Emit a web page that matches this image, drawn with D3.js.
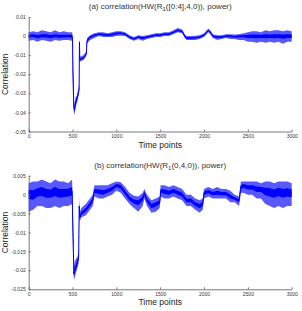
<!DOCTYPE html>
<html lang="en">
<head>
<meta charset="utf-8">
<title>Correlation vs time points</title>
<script src="https://d3js.org/d3.v7.min.js"></script>
<style>
  body { margin: 0; background: #fff; }
  svg { display: block; font-family: "Liberation Sans", Arial, sans-serif; }
</style>
</head>
<body>
<script>
// ---- data (correlation in units of 1e-3) ----
const tA   = [0,50,100,150,200,250,300,350,400,450,495,500,505,515,522,535,550,565,575,579,583,600,625,650,658,665,700,750,800,850,900,950,1000,1050,1100,1150,1200,1250,1300,1350,1400,1450,1500,1550,1600,1650,1700,1750,1780,1800,1850,1900,1950,2000,2050,2080,2100,2150,2200,2250,2300,2350,2400,2450,2500,2550,2600,2650,2700,2750,2800,2850,2900,2950,3000];
const midA = [0,0.2,-0.2,0,0.2,-0.2,0,0,-0.2,0,0,-2,-20,-37,-39,-35,-33,-30,-28,-3,-12.5,-12,-11.5,-10,-9,-2.5,-0.5,0.5,1,0.8,0.5,0.8,1.5,1.5,1,-0.5,-1.5,-0.5,-1,-0.5,0,0.5,0.5,1,1,2,3,2.5,0,-1,-1.2,-0.8,-0.5,0.5,3,1.5,0,-0.5,-0.5,0,0,-0.3,0,0,0,0,0,0,0,0,0,0,0,0,0];
const loA  = [-2.5,-2,-3,-2,-2.5,-3,-2,-2.5,-2,-2,-2.5,-6,-32,-40,-41.5,-37,-35,-32,-30,-5,-13.5,-13,-12.5,-11,-10,-4,-2,-1,0,-0.5,-0.5,-0.5,0,0.2,0,-1.5,-2.5,-1.5,-2.5,-1.5,-1,-0.5,-0.5,0,0,1,2,1.5,-1,-2,-2,-2,-1.5,-0.5,2,0.5,-1,-2,-1.5,-1,-1.5,-1.5,-2,-2,-3,-3,-3.5,-3,-3.5,-3,-3.5,-3,-4,-3,-3];
const hiA  = [2,2.5,2,3,2.5,2,3,2,2.5,2,2,1,-10,-33,-36,-32,-31,-28,-25,-1.5,-11,-10.5,-10,-8.5,-7,-1,0.5,1.5,2,2,1.5,2,2.5,2.5,2,0.5,-0.5,0.5,0,0.5,1,1.5,1.5,2,2,3,4.2,3.5,1,0,0,0.2,0.5,1.5,4,2.5,1,0.5,0.5,1,1,0.8,1,1.5,2,2.5,2.5,2,3,2.5,3,3,2.5,3,2.5];

const tB   = [0,50,100,150,200,250,300,350,400,450,495,505,515,525,540,555,570,576,583,600,650,700,730,750,800,850,900,950,1000,1050,1100,1150,1200,1250,1300,1320,1350,1400,1450,1495,1505,1550,1600,1650,1700,1750,1800,1850,1900,1950,1985,2000,2050,2100,2150,2200,2250,2300,2350,2400,2420,2450,2500,2550,2600,2650,2700,2750,2800,2850,2900,2950,3000];
const midB = [0.5,0,0.8,1,0.5,0.5,1,0.5,0.5,0.8,1,-10,-21,-20,-19,-18,-16.5,-3,-6,-5,-4,-2.5,-1.5,1,0.8,0.5,1,1.5,2.5,2.2,0.5,-1,-1.8,-2,-1,0.3,-1.5,-3,-2.5,-2,1,0.8,0.5,1,0.5,0,-1.5,-1.5,-2.5,-3,-2.5,0.5,0.8,0.3,0.5,0.3,0.3,-0.5,-1,-1.5,2,2.5,2,2,1.5,1.5,1,0.8,0.5,1,0.5,0.8,0.5];
const loB  = [-4.5,-4,-3,-3,-3.5,-3.5,-3,-3.5,-3,-3,-2.5,-15,-22.5,-22,-20.5,-19.5,-18,-6,-7,-6,-5.5,-4,-3,-0.5,-1,-1,-0.5,0,1,0.5,-1,-2.5,-3.5,-4.5,-3,-1,-3,-4.8,-4.5,-3.5,-0.5,-1,-1,-0.5,-1,-1.5,-3,-3,-4,-4.8,-4,-1,-0.5,-1,-1,-1,-1,-2,-2,-3,0.5,0.5,0,0,-1,-1,-2.5,-3,-3.5,-3,-3.5,-3,-3];
const hiB  = [3,3.5,3.5,4,3.5,3,4,3.5,3.5,3,4,-5,-19,-17.5,-17,-16.5,-15,-0.5,-4.5,-3.5,-2.5,-1,0,2.5,2.5,2.5,2.5,3,3.5,3.3,2,0.5,-0.3,-0.5,0.5,1.5,0,-1.5,-1,-0.5,2.5,2.5,2,2.5,2,1.5,0,0,-1,-1.5,-1,1.5,2,1.5,2,1.5,1.5,1,0,-0.5,3.5,3.5,3.5,3.5,3.5,3,3.5,3.5,3,3.5,3.5,3.5,3];

const xTicks = [0,500,1000,1500,2000,2500,3000];
const yTicksA = [0.01,0,-0.01,-0.02,-0.03,-0.04,-0.05];
const yLabelsA = ["0.01","0","-0.01","-0.02","-0.03","-0.04","-0.05"];
const yTicksB = [0.005,0,-0.005,-0.01,-0.015,-0.02,-0.025];
const yLabelsB = ["0.005","0","-0.005","-0.01","-0.015","-0.02","-0.025"];

const width = 302, height = 311;
const left = 28.7, right = 291.7;

const svg = d3.select("body").append("svg")
    .attr("width", width)
    .attr("height", height);

function panel(opts) {
  const rows = opts.t.map((t, i) => ({
    t: t, mid: opts.mid[i] / 1000, lo: opts.lo[i] / 1000, hi: opts.hi[i] / 1000
  }));

  const x = d3.scaleLinear().domain([0, 3000]).range([left, right]);
  const y = d3.scaleLinear().domain(opts.domain).range([opts.bottom, opts.top]);

  const g = svg.append("g");

  // outer (spiky) envelope
  g.append("path")
    .datum(rows)
    .attr("fill", "#2020ff")
    .attr("fill-opacity", 0.75)
    .attr("d", d3.area().x(d => x(d.t)).y0(d => y(d.lo)).y1(d => y(d.hi)));

  // dense core
  g.append("path")
    .datum(rows)
    .attr("fill", "#0000ff")
    .attr("d", d3.area().x(d => x(d.t))
      .y0(d => y((d.mid * 2 + d.lo) / 3))
      .y1(d => y((d.mid * 2 + d.hi) / 3)));

  g.append("path")
    .datum(rows)
    .attr("fill", "none")
    .attr("stroke", "#0000ff")
    .attr("stroke-width", 1)
    .attr("d", d3.line().x(d => x(d.t)).y(d => y(d.mid)));

  // axes (inward ticks, matlab style)
  const xAxis = d3.axisBottom(x).tickValues(xTicks).tickFormat(d3.format("d"))
      .tickSize(-2).tickSizeOuter(0).tickPadding(3);
  const yAxis = d3.axisLeft(y).tickValues(opts.yTicks)
      .tickFormat((d, i) => opts.yLabels[i]).tickSize(-2).tickSizeOuter(0).tickPadding(3);

  const xg = g.append("g")
    .attr("transform", "translate(0," + opts.bottom + ")")
    .call(xAxis);
  const yg = g.append("g")
    .attr("transform", "translate(" + left + ",0)")
    .call(yAxis);

  [xg, yg].forEach(a => {
    a.selectAll("path, line").attr("stroke", "#555").attr("stroke-width", 0.8);
    a.selectAll("text").attr("fill", "#333").style("font-size", "5px");
  });

  // title
  const title = g.append("text")
    .attr("x", (left + right) / 2)
    .attr("y", opts.titleY)
    .attr("text-anchor", "middle")
    .attr("fill", "#333")
    .style("font-size", "8px");
  title.append("tspan").text(opts.titlePre);
  title.append("tspan").attr("dy", 2).style("font-size", "6px").text("1");
  title.append("tspan").attr("dy", -2).text(opts.titlePost);

  g.append("text")
    .attr("x", (left + right) / 2)
    .attr("y", opts.bottom + 16)
    .attr("text-anchor", "middle")
    .attr("fill", "#222")
    .style("font-size", "8.5px")
    .text("Time points");

  g.append("text")
    .attr("transform", "translate(8," + ((opts.top + opts.bottom) / 2) + ") rotate(-90)")
    .attr("text-anchor", "middle")
    .attr("fill", "#222")
    .style("font-size", "8.5px")
    .text("Correlation");
}

panel({
  t: tA, mid: midA, lo: loA, hi: hiA,
  domain: [-0.05, 0.01], top: 17, bottom: 131.5,
  yTicks: yTicksA, yLabels: yLabelsA,
  titleY: 9, titlePre: "(a) correlation(HW(R", titlePost: "([0:4],4,0)), power)"
});

panel({
  t: tB, mid: midB, lo: loB, hi: hiB,
  domain: [-0.025, 0.005], top: 175.7, bottom: 289.3,
  yTicks: yTicksB, yLabels: yLabelsB,
  titleY: 168, titlePre: "(b) correlation(HW(R", titlePost: "(0,4,0)), power)"
});
</script>
</body>
</html>
